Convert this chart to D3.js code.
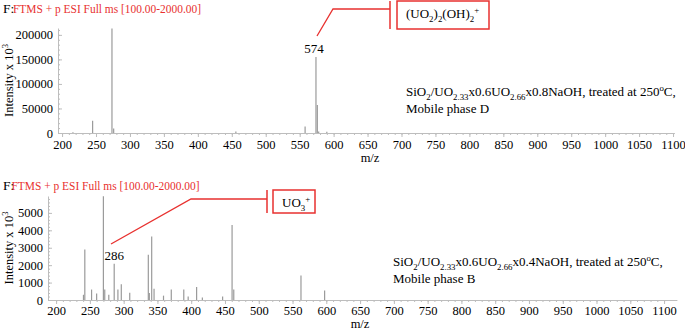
<!DOCTYPE html>
<html>
<head>
<meta charset="utf-8">
<script src="https://cdn.jsdelivr.net/npm/d3@7"></script>
<style>
  body { margin: 0; background: #fff; }
  svg { display: block; font-family: "Liberation Serif", "Times New Roman", serif; }
</style>
</head>
<body>
<div id="chart"></div>
<script>
// upper spectrum (mobile phase D)
const mzTop = [216, 245, 273.5, 276, 456, 558, 574, 576, 578, 590];
const intTop = [1500, 25000, 213000, 9000, 3000, 13000, 155000, 57000, 3000, 2500];
// lower spectrum (mobile phase B)
const mzBottom = [240.5, 242.5, 252.5, 260, 270, 272, 278, 286, 291.5, 296.5, 309, 336.5, 338, 341.5, 345,
  359, 370.5, 389, 395.5, 408, 416.5, 446.5, 460.5, 463, 562.5, 597.5];
const intBottom = [300, 2900, 600, 380, 5960, 600, 300, 2080, 600, 900, 420, 2600, 400, 3650, 650,
  250, 600, 600, 200, 750, 150, 200, 4300, 600, 1400, 550];
const xTicks = d3.range(200, 1101, 50);
const yTicksTop = [0, 50000, 100000, 150000, 200000];
const yTicksBottom = [0, 1000, 2000, 3000, 4000, 5000];

const RED = '#e8312f';
const W = 685, H = 329;

const svg = d3.select('#chart').append('svg')
  .attr('width', W)
  .attr('height', H);

// text with sub / superscripts: parts = ['plain', ['2','sub'], ['+','sup']]
function richText(parent, x, y, parts, size, color) {
  const t = parent.append('text')
    .attr('x', x).attr('y', y)
    .attr('font-size', size)
    .attr('fill', color || '#000');
  let shift = 0;
  parts.forEach(p => {
    const s = typeof p === 'string' ? p : p[0];
    const kind = typeof p === 'string' ? null : p[1];
    const target = kind === 'sub' ? size * 0.3 : kind === 'sup' ? -size * 0.4 : 0;
    t.append('tspan')
      .attr('dy', target - shift)
      .attr('font-size', kind ? size * 0.68 : size)
      .text(s);
    shift = target;
  });
  return t;
}

function drawPanel(o) {
  const x = d3.scaleLinear().domain(o.xDomain).range(o.xRange);
  const y = d3.scaleLinear().domain([0, o.yMax]).range([o.y0, o.yTop]);
  const g = svg.append('g');

  // minor ticks
  g.append('g')
    .attr('transform', `translate(0,${o.y0})`)
    .call(d3.axisBottom(x).tickValues(d3.range(200, 1101, 10)).tickSize(2).tickSizeOuter(0).tickFormat(''))
    .call(a => a.select('.domain').remove());
  g.append('g')
    .attr('transform', `translate(${o.xRange[0]},0)`)
    .call(d3.axisLeft(y).tickValues(d3.range(0, o.yMax, o.yMinor)).tickSizeInner(-2).tickSizeOuter(0).tickFormat(''))
    .call(a => a.select('.domain').remove());

  // x axis
  g.append('g')
    .attr('transform', `translate(0,${o.y0})`)
    .call(d3.axisBottom(x).tickValues(xTicks).tickSize(4).tickSizeOuter(0).tickPadding(o.xPad)
      .tickFormat(d3.format('d')))
    .call(a => a.attr('font-family', null).attr('font-size', 12.5));

  // y axis
  g.append('g')
    .attr('transform', `translate(${o.xRange[0]},0)`)
    .call(d3.axisLeft(y).tickValues(o.yTicks).tickSizeInner(-4).tickSizeOuter(0).tickPadding(5)
      .tickFormat(d3.format('d')))
    .call(a => a.attr('font-family', null).attr('font-size', 12.5));

  g.selectAll('.domain, .tick line').attr('stroke', '#bdbdbd');
  g.selectAll('.tick text').attr('fill', '#000');

  // peaks
  g.selectAll('line.peak')
    .data(d3.zip(o.mz, o.intensity))
    .join('line')
    .attr('class', 'peak')
    .attr('x1', d => x(d[0])).attr('x2', d => x(d[0]))
    .attr('y1', o.y0).attr('y2', d => y(d[1]))
    .attr('stroke', '#9a9a9a')
    .attr('stroke-width', 1.2);

  // axis titles
  const cy = (o.y0 + o.yTop) / 2;
  richText(g, 0, 0, ['Intensity x 10', ['3', 'sup']], 12.5)
    .attr('text-anchor', 'middle')
    .attr('transform', `translate(${13},${cy}) rotate(-90)`);
  g.append('text')
    .attr('x', o.mzX).attr('y', o.mzY)
    .attr('text-anchor', 'middle')
    .attr('font-size', 12.5)
    .text('m/z');

  // scan header
  g.append('text').attr('x', 3).attr('y', o.titleY).attr('font-size', 13.5).text('F:');
  g.append('text').attr('x', o.titleX).attr('y', o.titleY).attr('font-size', 13.5).attr('fill', RED)
    .attr('textLength', 188).attr('lengthAdjust', 'spacingAndGlyphs')
    .text('FTMS + p ESI Full ms [100.00-2000.00]');

  // sample description
  richText(g, o.descX, o.descY, ['SiO', ['2', 'sub'], '/UO', ['2.33', 'sub'], 'x0.6UO', ['2.66', 'sub'],
    o.naoh + 'NaOH, treated at 250', ['o', 'sup'], 'C,'], 13);
  g.append('text').attr('x', o.descX).attr('y', o.descY + 17).attr('font-size', 13).text(o.phase);

  // peak annotation
  const px = x(o.peakMz);
  g.append('text')
    .attr('x', px + o.labelDx).attr('y', o.labelY)
    .attr('text-anchor', 'middle')
    .attr('font-size', 13)
    .text(o.peakMz);
  const a = o.callout;
  g.append('path')
    .attr('d', d3.line()([a.start, a.bend, [a.barX, a.bend[1]]]))
    .attr('fill', 'none').attr('stroke', RED).attr('stroke-width', 1.3);
  g.append('line')
    .attr('x1', a.barX).attr('x2', a.barX).attr('y1', a.boxY).attr('y2', a.boxY + a.boxH)
    .attr('stroke', RED).attr('stroke-width', 1.5);
  g.append('rect')
    .attr('x', a.boxX).attr('y', a.boxY).attr('width', a.boxW).attr('height', a.boxH)
    .attr('fill', 'none').attr('stroke', RED).attr('stroke-width', 1.5);
  richText(g, a.boxX + 9, a.boxY + 17, a.ion, 13);
}

drawPanel({
  mz: mzTop, intensity: intTop, yMax: 214000, yTicks: yTicksTop, yMinor: 10000,
  xDomain: [194, 1102], xRange: [58, 674.4], y0: 133, yTop: 28, xPad: 3,
  mzX: 370, mzY: 162, titleX: 13, titleY: 13,
  descX: 406, descY: 96, naoh: 'x0.8', phase: 'Mobile phase D',
  peakMz: 574, labelDx: -2, labelY: 53,
  callout: { start: [317, 36], bend: [333, 9], barX: 390, boxX: 397, boxY: 1, boxW: 92, boxH: 28,
    ion: ['(UO', ['2', 'sub'], ')', ['2', 'sub'], '(OH)', ['2', 'sub'], ['+', 'sup']] }
});

drawPanel({
  mz: mzBottom, intensity: intBottom, yMax: 5970, yTicks: yTicksBottom, yMinor: 200,
  xDomain: [188, 1119], xRange: [48, 676.9], y0: 300, yTop: 196, xPad: 2,
  mzX: 360, mzY: 327.5, titleX: 11.5, titleY: 190,
  descX: 393, descY: 266, naoh: 'x0.4', phase: 'Mobile phase B',
  peakMz: 286, labelDx: 0, labelY: 260,
  callout: { start: [111, 244], bend: [191, 199], barX: 267, boxX: 273, boxY: 190, boxW: 42, boxH: 23,
    ion: ['UO', ['3', 'sub'], ['+', 'sup']] }
});
</script>
</body>
</html>
